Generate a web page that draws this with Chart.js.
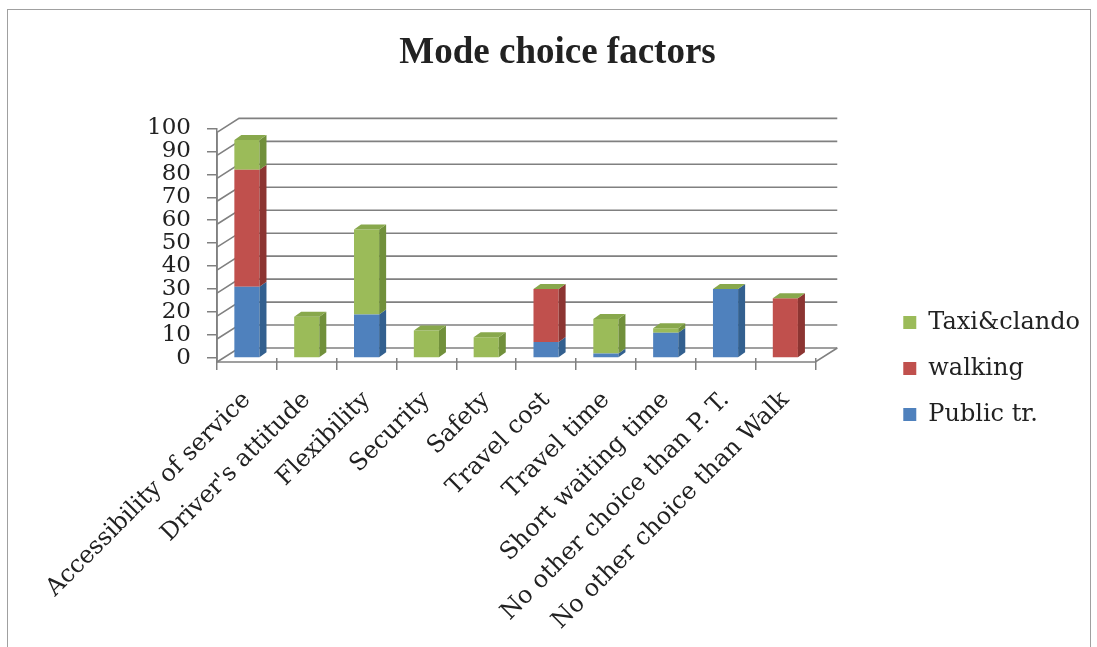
<!DOCTYPE html>
<html>
<head>
<meta charset="utf-8">
<title>Mode choice factors</title>
<script src="https://cdn.jsdelivr.net/npm/chart.js@4.4.1/dist/chart.umd.min.js"></script>
<style>
  html, body { margin: 0; padding: 0; background: #fff; }
  #wrap { position: relative; width: 1097px; height: 647px; overflow: hidden; }
  #frame { position: absolute; left: 7px; top: 9px; width: 1082px; height: 700px; border: 1px solid #a0a0a0; }
  #modeChart { position: absolute; left: 0; top: 0; }
</style>
</head>
<body>
<div id="wrap">
  <div id="frame"></div>
  <canvas id="modeChart" width="1097" height="647"></canvas>
</div>
<script>
const factors = ['Accessibility of service', "Driver's attitude", 'Flexibility', 'Security', 'Safety',
                 'Travel cost', 'Travel time', 'Short waiting time', 'No other choice than P. T.', 'No other choice than Walk'];
const publicTr   = [31, 0, 19, 0, 0, 7, 2, 11, 30, 0];   // blue, bottom of stack
const walking    = [51, 0, 0, 0, 0, 23, 0, 0, 0, 26];    // red
const taxiClando = [13, 18, 37, 12, 9, 0, 15, 2, 0, 0];  // green, top
const yTicks = [0, 10, 20, 30, 40, 50, 60, 70, 80, 90, 100];

// front / side / top shades for the fake 3d boxes
const shades = [
  { front: '#4F81BD', side: '#33608f', top: '#4572a6' },
  { front: '#C0504D', side: '#8c3532', top: '#a9443f' },
  { front: '#9BBB59', side: '#71903b', top: '#88a84c' }
];
const gridColor = '#808080';
const serif = "'DejaVu Serif', serif";

// walls, floor and back gridlines from the y scale, plus side/top faces of the bars
const threeDPlugin = {
  id: 'threeD',
  afterLayout(chart) {
    // legend sits lower than the centre of its full-height box
    chart.legend.top += 45;
    chart.legend.bottom += 45;
  },
  beforeDatasetsDraw(chart) {
    const { ctx, chartArea: a, scales: { y } } = chart;
    const dx = 22, lift = 4, back = 10;
    ctx.save();
    ctx.strokeStyle = gridColor;
    ctx.lineWidth = 1.6;
    y.ticks.forEach(t => {
      const py = y.getPixelForValue(t.value);
      ctx.beginPath();
      ctx.moveTo(a.left, py + lift);
      ctx.lineTo(a.left + dx, py - back);
      ctx.lineTo(a.right + dx, py - back);
      ctx.stroke();
    });
    ctx.beginPath();
    ctx.moveTo(a.left, y.getPixelForValue(100) + lift);
    ctx.lineTo(a.left, a.bottom + lift);
    ctx.lineTo(a.right, a.bottom + lift);
    ctx.lineTo(a.right + dx, a.bottom - back);
    ctx.stroke();
    ctx.restore();
  },
  afterDatasetsDraw(chart) {
    const { ctx } = chart;
    const sx = 7, sy = 5;
    const n = chart.data.datasets.length;
    ctx.save();
    for (let i = 0; i < n; i++) {
      const c = shades[i];
      chart.getDatasetMeta(i).data.forEach(bar => {
        const { x, y, base, width } = bar.getProps(['x', 'y', 'base', 'width'], true);
        const l = x - width / 2, r = x + width / 2;
        ctx.fillStyle = c.side;
        ctx.beginPath();
        ctx.moveTo(r, y); ctx.lineTo(r + sx, y - sy); ctx.lineTo(r + sx, base - sy); ctx.lineTo(r, base);
        ctx.closePath(); ctx.fill();
        if (i === n - 1) {
          ctx.fillStyle = c.top;
          ctx.beginPath();
          ctx.moveTo(l, y); ctx.lineTo(l + sx, y - sy); ctx.lineTo(r + sx, y - sy); ctx.lineTo(r, y);
          ctx.closePath(); ctx.fill();
        }
      });
    }
    ctx.restore();
  }
};

document.addEventListener('DOMContentLoaded', function () {
  const ctx = document.getElementById('modeChart').getContext('2d');
  new Chart(ctx, {
    type: 'bar',
    data: {
      labels: factors,
      datasets: [
        { label: 'Public tr.', data: publicTr, backgroundColor: shades[0].front },
        { label: 'walking', data: walking, backgroundColor: shades[1].front },
        { label: 'Taxi&clando', data: taxiClando, backgroundColor: shades[2].front }
      ]
    },
    options: {
      responsive: false,
      animation: false,
      layout: { padding: { left: 25, right: 7, top: 0, bottom: 0 } },
      datasets: { bar: { barPercentage: 0.42, categoryPercentage: 1 } },
      plugins: {
        title: {
          display: true,
          text: 'Mode choice factors',
          color: '#222',
          font: { family: "'Liberation Serif', serif", size: 37, weight: 'bold' },
          padding: { top: 31, bottom: 53 }
        },
        legend: {
          position: 'right',
          reverse: true,
          maxWidth: 260,
          labels: {
            color: '#222',
            font: { family: serif, size: 24 },
            boxWidth: 13,
            boxHeight: 13,
            padding: 22
          }
        },
        tooltip: { enabled: false }
      },
      scales: {
        x: {
          stacked: true,
          border: { display: false },
          grid: { drawOnChartArea: false, tickLength: 12, offset: true, color: gridColor, lineWidth: 1.5 },
          ticks: { color: '#222', font: { family: serif, size: 24 }, minRotation: 45, maxRotation: 45, autoSkip: false, padding: 16 },
          afterFit: s => { s.height = 289; }
        },
        y: {
          stacked: true,
          min: 0,
          max: 100,
          border: { color: gridColor, width: 1.5 },
          grid: { drawOnChartArea: false, tickLength: 10, color: gridColor, lineWidth: 1.5 },
          ticks: { color: '#222', font: { family: serif, size: 23 }, padding: 16, autoSkip: false },
          afterBuildTicks: s => { s.ticks = yTicks.map(v => ({ value: v })); },
          afterFit: s => { s.width = 192; }
        },
        gap: {
          type: 'linear',
          position: 'right',
          ticks: { display: false },
          grid: { display: false },
          border: { display: false },
          afterFit: s => { s.width = 66; }
        }
      }
    },
    plugins: [threeDPlugin]
  });
});
</script>
</body>
</html>
